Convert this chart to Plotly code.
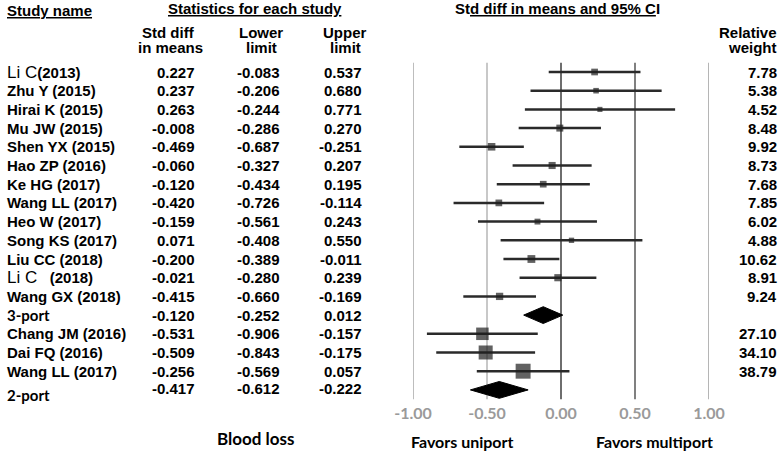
import plotly.graph_objects as go
import math

# ---------------- data ----------------
authors = ["Li C", "Zhu Y", "Hirai K", "Mu JW", "Shen YX", "Hao ZP", "Ke HG",
           "Wang LL", "Heo W", "Song KS", "Liu CC", "Li C", "Wang GX",
           "3-port", "Chang JM", "Dai FQ", "Wang LL", "2-port"]
years = ["2013", "2015", "2015", "2015", "2015", "2016", "2017", "2017", "2017",
         "2017", "2018", "2018", "2018", "", "2016", "2016", "2017", ""]
is_summary = [False] * 13 + [True] + [False] * 3 + [True]
smd = [0.227, 0.237, 0.263, -0.008, -0.469, -0.060, -0.120, -0.420, -0.159,
       0.071, -0.200, -0.021, -0.415, -0.120, -0.531, -0.509, -0.256, -0.417]
lower = [-0.083, -0.206, -0.244, -0.286, -0.687, -0.327, -0.434, -0.726, -0.561,
         -0.408, -0.389, -0.280, -0.660, -0.252, -0.906, -0.843, -0.569, -0.612]
upper = [0.537, 0.680, 0.771, 0.270, -0.251, 0.207, 0.195, -0.114, 0.243,
         0.550, -0.011, 0.239, -0.169, 0.012, -0.157, -0.175, 0.057, -0.222]
weight = [7.78, 5.38, 4.52, 8.48, 9.92, 8.73, 7.68, 7.85, 6.02, 4.88, 10.62,
          8.91, 9.24, None, 27.10, 34.10, 38.79, None]
tick_vals = [-1.0, -0.5, 0.0, 0.5, 1.0]
tick_text = ["-1.00", "-0.50", "0.00", "0.50", "1.00"]
plain_authors = {"Li C"}

# ---------------- geometry / style ----------------
W, H = 784, 452
ROW0, ROWH = 72, 18.7
PLOT_BOTTOM = 402
ARIAL = "Liberation Sans"
CALIBRI = "Lato"
DARK = "#1e1e1e"

def py(p):  # pixel y -> paper y
    return 1 - p / H

def px(p):  # pixel x -> paper x
    return p / W

rows = list(range(len(authors)))
study_rows = [i for i in rows if not is_summary[i]]
summ_rows = [i for i in rows if is_summary[i]]

fig = go.Figure()

# confidence-interval lines
xs, ys = [], []
for i in study_rows:
    xs += [lower[i], upper[i], None]
    ys += [i, i, None]
fig.add_trace(go.Scatter(x=xs, y=ys, mode="lines",
                         line=dict(color="#2a2a2a", width=2.5),
                         hoverinfo="skip", showlegend=False))

# point estimates (square size ~ sqrt(weight))
fig.add_trace(go.Scatter(
    x=[smd[i] for i in study_rows], y=study_rows, mode="markers",
    marker=dict(symbol="square", color=DARK,
                size=[2.4 * math.sqrt(weight[i]) for i in study_rows],
                line=dict(width=0)),
    hoverinfo="skip", showlegend=False))

# subgroup diamonds
HALF = 0.45
for i in summ_rows:
    fig.add_trace(go.Scatter(
        x=[lower[i], smd[i], upper[i], smd[i], lower[i]],
        y=[i, i - HALF, i, i + HALF, i],
        mode="lines", fill="toself", fillcolor="black",
        line=dict(color="black", width=1), hoverinfo="skip", showlegend=False))

# vertical reference lines
line_colors = {-1.0: "#bdbdbd", -0.5: "#c8c8c8", 0.0: "#6e6e6e", 0.5: "#808080", 1.0: "#b5b5b5"}
for v in tick_vals:
    fig.add_shape(type="line", xref="x", yref="y", x0=v, x1=v,
                  y0=-0.5, y1=len(rows) - 0.5,
                  line=dict(color=line_colors[v], width=2), layer="below")

ann = []

def add(text, x, y, xanchor="left", size=15, family=ARIAL, color="black", yref="paper", yanchor="middle"):
    ann.append(dict(text=text, x=x, y=y, xref="paper", yref=yref, xanchor=xanchor,
                    yanchor=yanchor, showarrow=False,
                    font=dict(size=size, family=family, color=color)))

# headers
add("<b><u>Study name</u></b>", px(5), py(10))
add("<b><u>Statistics for each study</u></b>", px(255), py(9), xanchor="center")
add("<b>St<u>d diff in means and 95% C</u>I</b>", px(557), py(9), xanchor="center")
add("<b>Std diff</b>", px(168), py(33), xanchor="center")
add("<b>in means</b>", px(170), py(48), xanchor="center")
add("<b>Lower</b>", px(261), py(33), xanchor="center")
add("<b>limit</b>", px(261), py(48), xanchor="center")
add("<b>Upper</b>", px(345), py(33), xanchor="center")
add("<b>limit</b>", px(345), py(48), xanchor="center")
add("<b>Relative</b>", px(779), py(33), xanchor="right")
add("<b>weight</b>", px(779), py(48), xanchor="right")

# table rows
for i in rows:
    if is_summary[i]:
        yoff = 0.25 if authors[i] == "2-port" else 0.0
        add("<b>%s</b>" % authors[i], px(5), i + yoff, size=15, family=CALIBRI, yref="y")
        vy = i - 0.05 if authors[i] == "2-port" else i
    else:
        if authors[i] in plain_authors:
            gap = "" if years[i] == "2013" else "&nbsp;&nbsp;&nbsp;"
            txt = ('<span style="font-weight:normal;font-size:17px">%s</span>%s<b>(%s)</b>'
                   % (authors[i], gap, years[i]))
        else:
            txt = "<b>%s (%s)</b>" % (authors[i], years[i])
        add(txt, px(5), i, yref="y")
        vy = i
    add("<b>%.3f</b>" % smd[i], px(197), vy, xanchor="right", yref="y")
    add("<b>%.3f</b>" % lower[i], px(282), vy, xanchor="right", yref="y")
    add("<b>%.3f</b>" % upper[i], px(364), vy, xanchor="right", yref="y")
    if weight[i] is not None:
        add("<b>%.2f</b>" % weight[i], px(779), i, xanchor="right", yref="y")

# footer
add("<b>Blood loss</b>", px(256), py(438), xanchor="center", size=17, family=CALIBRI)
add("<b>Favors uniport</b>", px(463), py(441), xanchor="center", size=16, family=CALIBRI)
add("<b>Favors multiport</b>", px(654), py(441), xanchor="center", size=16, family=CALIBRI)

y_top = -ROW0 / ROWH
y_bot = (PLOT_BOTTOM - ROW0) / ROWH

fig.update_layout(
    width=W, height=H, margin=dict(l=0, r=0, t=0, b=0, pad=0, autoexpand=False),
    paper_bgcolor="white", plot_bgcolor="white",
    xaxis=dict(domain=[px(413), px(709)], range=[-1, 1], tickvals=tick_vals,
               ticktext=["<b>%s</b>" % t for t in tick_text],
               showgrid=False, zeroline=False, showline=False, automargin=False,
               ticks="", tickfont=dict(family=CALIBRI, size=16, color="#9a9a9a"),
               fixedrange=True),
    yaxis=dict(domain=[1 - PLOT_BOTTOM / H, 1], range=[y_bot, y_top], visible=False,
               automargin=False, fixedrange=True),
    annotations=ann,
)

fig.write_html("out.html", config={"displayModeBar": False},
               post_script="document.body.style.margin='0';")
